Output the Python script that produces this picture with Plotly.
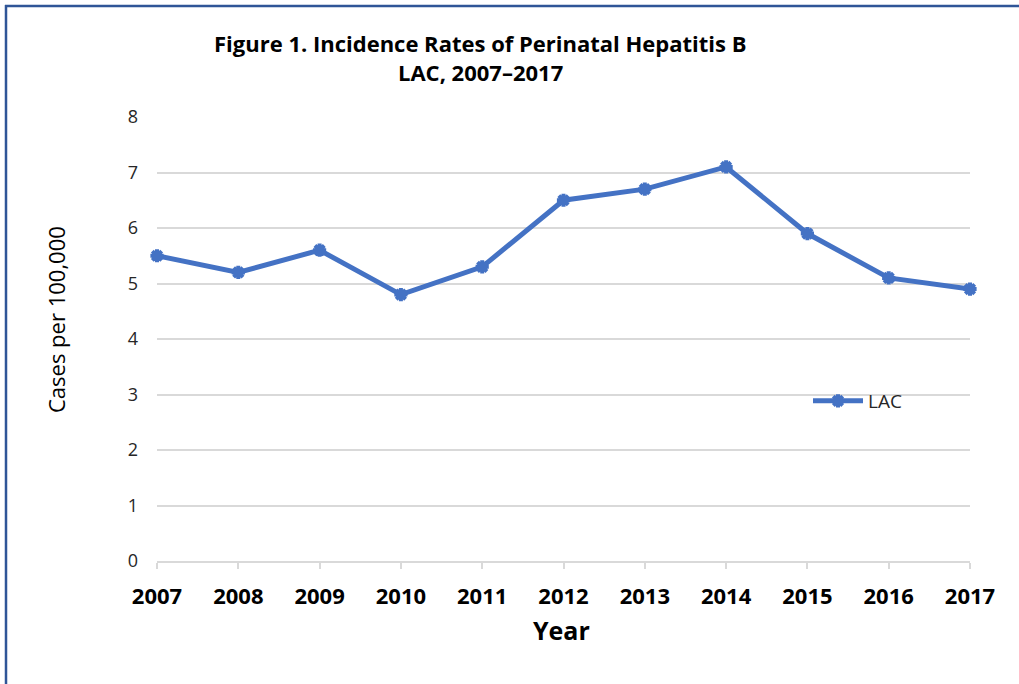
import plotly.graph_objects as go

years = [2007, 2008, 2009, 2010, 2011, 2012, 2013, 2014, 2015, 2016, 2017]
rates = [5.5, 5.2, 5.6, 4.8, 5.3, 6.5, 6.7, 7.1, 5.9, 5.1, 4.9]
y_ticks = [0, 1, 2, 3, 4, 5, 6, 7, 8]
series_name = "LAC"
title_lines = ["Figure 1. Incidence Rates of Perinatal Hepatitis B", "LAC, 2007\u20132017"]
x_title = "Year"
y_title = "Cases per 100,000"

FONT = "'Open Sans', sans-serif"
W, H = 1019, 684
L, R, T, B = 157, 49, 117, 123
pw, ph = W - L - R, H - T - B

def px_x(p):
    return (p - L) / pw

def px_y(p):
    return (H - B - p) / ph

fig = go.Figure()
fig.add_trace(go.Scatter(
    x=years, y=rates, name=series_name, mode="lines+markers",
    line=dict(color="#4472C4", width=5),
    marker=dict(symbol="asterisk-open", size=11, color="#4472C4",
                line=dict(color="#4472C4", width=4)),
    cliponaxis=False,
))

annotations = [
    dict(text="<b>" + title_lines[0] + "</b>", x=px_x(480), y=px_y(43),
         font=dict(size=22, color="black", family=FONT)),
    dict(text="<b>" + title_lines[1] + "</b>", x=px_x(480), y=px_y(72),
         font=dict(size=22, color="black", family=FONT)),
    dict(text="<b>" + x_title + "</b>", x=px_x(561), y=px_y(630),
         font=dict(size=25, color="black", family=FONT)),
    dict(text=y_title, x=px_x(56), y=px_y(320), textangle=-90,
         font=dict(size=22, color="black", family=FONT)),
]
for a in annotations:
    a.update(xref="paper", yref="paper", xanchor="center", yanchor="middle",
             showarrow=False)

fig.update_layout(
    width=W, height=H,
    margin=dict(l=L, r=R, t=T, b=B),
    paper_bgcolor="white", plot_bgcolor="white",
    font=dict(family=FONT, color="#262626"),
    showlegend=True,
    legend=dict(x=px_x(808), y=px_y(401), xanchor="left", yanchor="middle",
                bgcolor="rgba(0,0,0,0)", font=dict(size=19, color="#262626", family=FONT),
                itemwidth=50),
    xaxis=dict(range=[2007, 2017], tickmode="array", tickvals=years,
               ticktext=[str(y) for y in years],
               tickfont=dict(size=22, color="black", family=FONT, weight="bold"),
               showgrid=False, zeroline=False,
               showline=True, linecolor="#d9d9d9", linewidth=1.5,
               ticks="outside", ticklen=6, tickcolor="#d9d9d9", tickwidth=1.5,
               ticklabelstandoff=9,
               fixedrange=True),
    yaxis=dict(range=[0, 8], tickmode="array", tickvals=y_ticks,
               tickfont=dict(size=18, color="#262626", family=FONT),
               showgrid=True, gridcolor="#d9d9d9", gridwidth=1.5,
               zeroline=False, showline=False, ticks="",
               ticklabelstandoff=18,
               fixedrange=True),
    annotations=annotations,
    shapes=[
        dict(type="line", xref="paper", yref="paper",
             x0=px_x(6), x1=px_x(6), y0=px_y(5), y1=px_y(H + 5),
             line=dict(color="#2F5597", width=2.5)),
        dict(type="line", xref="paper", yref="paper",
             x0=px_x(5), x1=px_x(W + 5), y0=px_y(6), y1=px_y(6),
             line=dict(color="#2F5597", width=2.5)),
    ],
)

fig.write_html("out.html", config={"displayModeBar": False},
               post_script="document.body.style.margin='0';document.body.style.overflow='hidden';")
